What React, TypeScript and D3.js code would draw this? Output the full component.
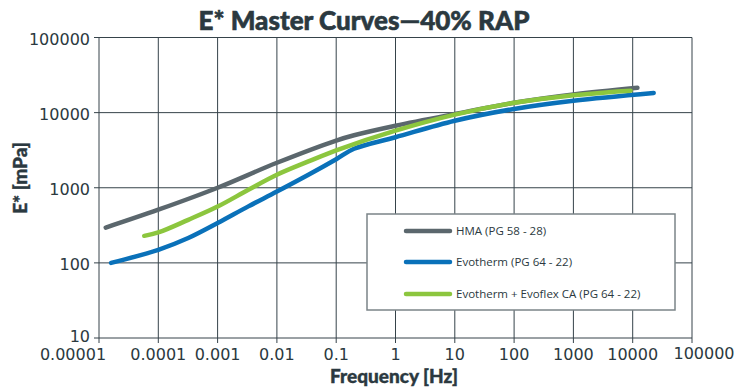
import React from 'react'
import * as d3 from 'd3'

// E* master curves, 40% RAP mixes
const hmaFreq = [1.3e-5, 1e-4, 1e-3, 1e-2, 0.1, 0.2, 1, 10, 100, 1000, 12000]
const hmaE = [295, 510, 1000, 2150, 4250, 5000, 6700, 9600, 13500, 17400, 21400]

const evoFreq = [1.6e-5, 1e-4, 3.2e-4, 1e-3, 3.3e-3, 1e-2, 3.4e-2, 0.1, 0.2, 1, 10, 100, 1000, 22600]
const evoE = [100, 149, 214, 339, 565, 890, 1490, 2400, 3300, 4700, 7800, 11200, 14400, 18300]

const flexFreq = [5.8e-5, 1e-4, 3.2e-4, 1e-3, 3.3e-3, 1e-2, 3.4e-2, 0.1, 1, 10, 100, 1000, 9200]
const flexE = [229, 254, 374, 562, 940, 1490, 2240, 3150, 5750, 9400, 13500, 17000, 19600]

const seriesNames = ['HMA (PG 58 - 28)', 'Evotherm (PG 64 - 22)', 'Evotherm + Evoflex CA (PG 64 - 22)']
const seriesColors = ['#5b676d', '#0a71b9', '#8cc63e']

const xTicks = [1e-5, 1e-4, 1e-3, 1e-2, 0.1, 1, 10, 100, 1000, 10000, 100000]
const xTickLabels = ['0.00001', '0.0001', '0.001', '0.01', '0.1', '1', '10', '100', '1000', '10000', '100000']
const yTicks = [10, 100, 1000, 10000, 100000]
const yTickLabels = ['10', '100', '1000', '10000', '100000']

const ink = '#2b3940'
const gridColor = '#36434a'

export default function App() {
  const width = 755
  const height = 388

  const x = d3.scaleLog().domain([1e-5, 1e5]).range([99, 692])
  const y = d3.scaleLog().domain([10, 1e5]).range([338, 37.5])

  const line = d3.line<[number, number]>()
    .x(d => x(d[0]))
    .y(d => y(d[1]))
    .curve(d3.curveCatmullRom.alpha(0.5))

  const series = [
    { freq: hmaFreq, e: hmaE },
    { freq: evoFreq, e: evoE },
    { freq: flexFreq, e: flexE }
  ]

  // legend box
  const lg = { x: 367, y: 214, w: 308, h: 96 }
  const legendRows = [231, 262, 294]

  return (
    <svg width={width} height={height}
      style={{ position: 'absolute', left: 0, top: 0, display: 'block', background: '#fff' }}>
      <text x={364} y={30} textAnchor="middle" fill={ink} stroke={ink} strokeWidth={0.6}
        style={{ fontFamily: 'Lato', fontWeight: 900, fontSize: 26 }}>
        E* Master Curves—40% RAP
      </text>

      {/* grid */}
      <g stroke={gridColor} strokeWidth={1}>
        {xTicks.map(t => (
          <line key={'gx' + t} x1={x(t)} x2={x(t)} y1={y(1e5)} y2={y(10) + 5} />
        ))}
        {yTicks.map(t => (
          <line key={'gy' + t} x1={x(1e-5) - 5} x2={x(1e5)} y1={y(t)} y2={y(t)} />
        ))}
      </g>

      {/* tick labels */}
      <g fill={ink} style={{ fontFamily: 'DejaVu Sans', fontSize: 16 }}>
        {yTicks.map((t, i) => (
          <text key={'ty' + t} x={90} y={y(t) + (i === 0 ? 4 : 7)} textAnchor="end">{yTickLabels[i]}</text>
        ))}
        {xTicks.map((t, i) => (
          <text key={'tx' + t} x={x(t)} y={i === xTicks.length - 1 ? 358.5 : 360}
            dx={i === 0 ? -26 : i === xTicks.length - 1 ? 12 : 0}
            textAnchor="middle">{xTickLabels[i]}</text>
        ))}
      </g>

      {/* axis titles */}
      <text x={394} y={383} textAnchor="middle" fill={ink} stroke={ink} strokeWidth={0.4}
        style={{ fontFamily: 'Lato', fontWeight: 900, fontSize: 19 }}>
        Frequency [Hz]
      </text>
      <text transform="translate(27,178) rotate(-90)" textAnchor="middle" fill={ink} stroke={ink} strokeWidth={0.4}
        style={{ fontFamily: 'Lato', fontWeight: 900, fontSize: 19 }}>
        E* [mPa]
      </text>

      {/* curves */}
      <g fill="none" strokeWidth={4.5} strokeLinecap="round" strokeLinejoin="round">
        {series.map((s, i) => (
          <path key={'s' + i} d={line(s.freq.map((f, j) => [f, s.e[j]] as [number, number])) || ''}
            stroke={seriesColors[i]} />
        ))}
      </g>

      {/* legend */}
      <rect x={lg.x} y={lg.y} width={lg.w} height={lg.h} fill="#fff" stroke="#7b8488" strokeWidth={1.5} />
      {seriesNames.map((name, i) => (
        <g key={name}>
          <line x1={406} x2={450} y1={legendRows[i]} y2={legendRows[i]}
            stroke={seriesColors[i]} strokeWidth={4.5} strokeLinecap="round" />
          <text x={456} y={legendRows[i] + 4} fill={ink}
            style={{ fontFamily: 'Open Sans', fontSize: 11.5 }}>{name}</text>
        </g>
      ))}
    </svg>
  )
}
